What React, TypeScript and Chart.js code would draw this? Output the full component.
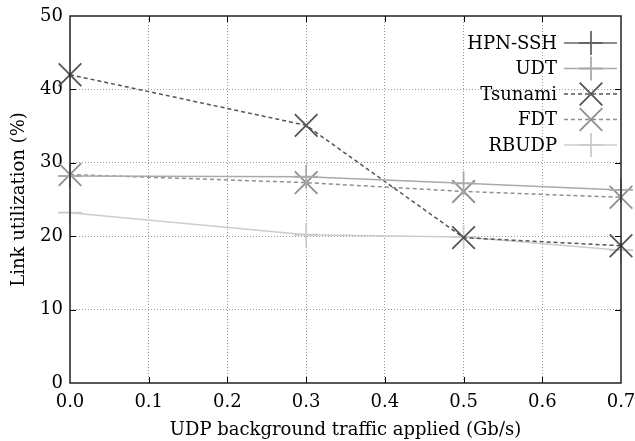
import React, { useEffect, useRef } from "react";
import { Chart, registerables } from "chart.js";

Chart.register(...registerables);

const xValues = [0, 0.3, 0.5, 0.7];
const seriesNames = ["HPN-SSH", "UDT", "Tsunami", "FDT", "RBUDP"];
const hpnSsh: (number | null)[] = [null, null, null, null];
const udt = [28.2, 28.1, 27.2, 26.3];
const tsunami = [42.0, 35.1, 19.8, 18.7];
const fdt = [28.4, 27.3, 26.1, 25.3];
const rbudp = [23.2, 20.2, 19.9, 18.1];
const xTitle = "UDP background traffic applied (Gb/s)";
const yTitle = "Link utilization (%)";

const FONT = "'DejaVu Serif', serif";
const FS = 18;

const styles = [
  { color: "#666666", dash: [] as number[], marker: "cross", r: 12 },
  { color: "#aaaaaa", dash: [] as number[], marker: "cross", r: 12 },
  { color: "#555555", dash: [4, 3], marker: "crossRot", r: 16 },
  { color: "#8f8f8f", dash: [4, 3], marker: "crossRot", r: 16 },
  { color: "#cccccc", dash: [] as number[], marker: "cross", r: 12 },
];

const framePlugin = {
  id: "frame",
  afterDatasetsDraw(chart: any) {
    const { ctx, chartArea: a, scales } = chart;
    ctx.save();
    ctx.strokeStyle = "#000";
    ctx.lineWidth = 1;
    ctx.setLineDash([]);
    ctx.beginPath();
    scales.y.ticks.forEach((t: any) => {
      if (t.value <= 0 || t.value >= 50) return;
      const y = Math.round(scales.y.getPixelForValue(t.value)) + 0.5;
      ctx.moveTo(a.left, y);
      ctx.lineTo(a.left + 6, y);
      ctx.moveTo(a.right, y);
      ctx.lineTo(a.right - 6, y);
    });
    scales.x.ticks.forEach((t: any) => {
      if (t.value <= 0.001 || t.value >= 0.699) return;
      const x = Math.round(scales.x.getPixelForValue(t.value)) + 0.5;
      ctx.moveTo(x, a.bottom);
      ctx.lineTo(x, a.bottom - 6);
      ctx.moveTo(x, a.top);
      ctx.lineTo(x, a.top + 6);
    });
    ctx.stroke();
    ctx.lineWidth = 1.5;
    ctx.strokeStyle = "#222";
    ctx.strokeRect(a.left, a.top, a.right - a.left, a.bottom - a.top);
    ctx.restore();
  },
  afterDraw(chart: any) {
    const { ctx, chartArea: a } = chart;
    ctx.save();
    ctx.font = `${FS}px ${FONT}`;
    ctx.textAlign = "right";
    ctx.textBaseline = "middle";
    chart.data.datasets.forEach((ds: any, i: number) => {
      const st = styles[i];
      const y = a.top + 27 + i * 25.5;
      ctx.fillStyle = "#000";
      ctx.fillText(ds.label, a.right - 64, y + 1);
      ctx.strokeStyle = st.color;
      ctx.lineWidth = 1.5;
      ctx.setLineDash(st.dash);
      ctx.beginPath();
      ctx.moveTo(a.right - 57, y);
      ctx.lineTo(a.right - 4, y);
      ctx.stroke();
      ctx.setLineDash([]);
      ctx.lineWidth = 1.8;
      ctx.beginPath();
      const cx = a.right - 30;
      if (st.marker === "cross") {
        ctx.moveTo(cx - st.r, y);
        ctx.lineTo(cx + st.r, y);
        ctx.moveTo(cx, y - st.r);
        ctx.lineTo(cx, y + st.r);
      } else {
        const d = st.r * Math.SQRT1_2;
        ctx.moveTo(cx - d, y - d);
        ctx.lineTo(cx + d, y + d);
        ctx.moveTo(cx - d, y + d);
        ctx.lineTo(cx + d, y - d);
      }
      ctx.stroke();
    });
    ctx.restore();
  },
};

export default function App() {
  const ref = useRef<HTMLCanvasElement>(null);
  useEffect(() => {
    const series = [hpnSsh, udt, tsunami, fdt, rbudp];
    const chart = new Chart(ref.current!, {
      type: "line",
      data: {
        datasets: series.map((vals, i) => ({
          label: seriesNames[i],
          data: xValues.map((x, j) => ({ x, y: vals[j] })),
          borderColor: styles[i].color,
          backgroundColor: styles[i].color,
          borderWidth: 1.5,
          borderDash: styles[i].dash,
          pointStyle: styles[i].marker as any,
          pointRadius: styles[i].r,
          pointBorderWidth: 1.8,
          pointBorderColor: styles[i].color,
          fill: false,
          tension: 0,
          clip: false as any,
          order: i,
        })),
      },
      options: {
        responsive: false,
        animation: false,
        devicePixelRatio: 1,
        layout: { autoPadding: false, padding: { left: 0, top: 16, right: 14, bottom: 0 } },
        plugins: { legend: { display: false }, tooltip: { enabled: false } },
        scales: {
          x: {
            type: "linear",
            min: 0,
            max: 0.7,
            ticks: {
              stepSize: 0.1,
              callback: (v: any) => Number(v).toFixed(1),
              font: { family: FONT, size: FS },
              color: "#000",
              padding: 9,
              maxRotation: 0,
              autoSkip: false,
            },
            grid: {
              drawTicks: false,
              color: (c: any) =>
                c.tick && (c.tick.value < 0.001 || c.tick.value > 0.699) ? "rgba(0,0,0,0)" : "#9a9a9a",
              lineWidth: 1,
            },
            border: { display: false, dash: [1, 2] },
            title: {
              display: true,
              text: xTitle,
              font: { family: FONT, size: FS },
              color: "#000",
              padding: { top: 0, bottom: 0 },
            },
            afterFit: (s: any) => {
              s.height = 58;
              s.paddingLeft = 0;
              s.paddingRight = 0;
            },
          },
          y: {
            type: "linear",
            min: 0,
            max: 50,
            ticks: {
              stepSize: 10,
              font: { family: FONT, size: FS },
              color: "#000",
              padding: 7,
            },
            grid: {
              drawTicks: false,
              color: (c: any) =>
                c.tick && (c.tick.value <= 0 || c.tick.value >= 50) ? "rgba(0,0,0,0)" : "#9a9a9a",
              lineWidth: 1,
            },
            border: { display: false, dash: [1, 2] },
            title: {
              display: true,
              text: yTitle,
              font: { family: FONT, size: FS },
              color: "#000",
              padding: { top: 9, bottom: 0 },
            },
            afterFit: (s: any) => {
              s.width = 70;
              s.paddingTop = 0;
              s.paddingBottom = 0;
            },
          },
        },
      },
      plugins: [framePlugin],
    });
    return () => chart.destroy();
  }, []);
  return (
    <div style={{ position: "absolute", left: 0, top: 0, width: 635, height: 441, background: "#fff" }}>
      <canvas ref={ref} width={635} height={441} />
    </div>
  );
}
